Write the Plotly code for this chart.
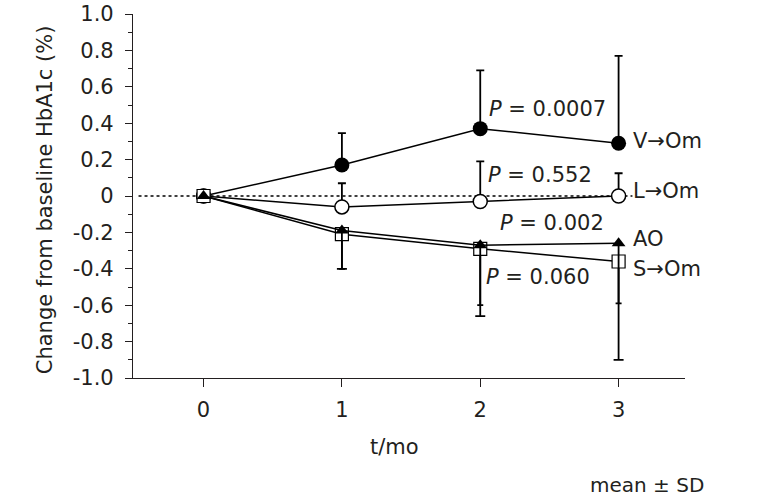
import plotly.graph_objects as go

months = [0, 1, 2, 3]

v_om = [0, 0.17, 0.37, 0.29]
v_om_sd = [0, 0.175, 0.32, 0.48]

l_om = [0, -0.06, -0.03, 0.0]
l_om_sd = [0, 0.13, 0.22, 0.125]

ao = [0, -0.19, -0.27, -0.26]
ao_sd = [0, 0.21, 0.33, 0.33]

s_om = [0, -0.21, -0.29, -0.36]
s_om_sd = [0, 0.19, 0.37, 0.54]

ytick_vals = [1.0, 0.8, 0.6, 0.4, 0.2, 0, -0.2, -0.4, -0.6, -0.8, -1.0]
ytick_text = ["1.0", "0.8", "0.6", "0.4", "0.2", "0", "-0.2", "-0.4", "-0.6", "-0.8", "-1.0"]

p_labels = ["<i>P</i> = 0.0007", "<i>P</i> = 0.552", "<i>P</i> = 0.002", "<i>P</i> = 0.060"]
p_pos = [(2.05, 0.48), (2.04, 0.115), (2.13, -0.15), (2.03, -0.445)]

series_labels = ["V→Om", "L→Om", "AO", "S→Om"]
series_label_y = [0.30, 0.03, -0.235, -0.40]

FONT = "DejaVu Sans"
TXT = "#231f20"
fig = go.Figure()


def up_err(sd, w):
    return dict(type="data", symmetric=False, array=sd, arrayminus=[0] * len(sd),
                color="black", thickness=1.8, width=w)


def down_err(sd, w):
    return dict(type="data", symmetric=False, array=[0] * len(sd), arrayminus=sd,
                color="black", thickness=1.8, width=w)


# zero reference line (dotted)
fig.add_shape(type="line", x0=-0.47, x1=3.1, y0=0, y1=0, xref="x", yref="y",
              line=dict(color="black", width=1.5, dash="dot"), layer="below")

# circles first so the square + triangle sit on top at month 0
fig.add_trace(go.Scatter(x=months, y=v_om, mode="lines+markers", name="V→Om",
                         line=dict(color="black", width=1.5),
                         marker=dict(symbol="circle", size=15, color="black"),
                         error_y=up_err(v_om_sd, 4)))
fig.add_trace(go.Scatter(x=months, y=l_om, mode="lines+markers", name="L→Om",
                         line=dict(color="black", width=1.5),
                         marker=dict(symbol="circle", size=14, color="white",
                                     line=dict(color="black", width=1.5)),
                         error_y=up_err(l_om_sd, 4)))
fig.add_trace(go.Scatter(x=months, y=s_om, mode="lines+markers", name="S→Om",
                         line=dict(color="black", width=1.5),
                         marker=dict(symbol="square", size=13, color="white",
                                     line=dict(color="black", width=1.2)),
                         error_y=down_err(s_om_sd, 5)))
fig.add_trace(go.Scatter(x=months, y=ao, mode="lines+markers", name="AO",
                         line=dict(color="black", width=1.5),
                         marker=dict(symbol="triangle-up", size=12, color="black"),
                         error_y=down_err(ao_sd, 3)))

for txt, (px, py) in zip(p_labels, p_pos):
    fig.add_annotation(x=px, y=py, text=txt, showarrow=False, xanchor="left",
                       yanchor="middle", font=dict(size=21, color=TXT, family=FONT))

for txt, ly in zip(series_labels, series_label_y):
    fig.add_annotation(x=3, y=ly, text=txt, showarrow=False, xanchor="left", xshift=12,
                       yanchor="middle", font=dict(size=21, color=TXT, family=FONT))

# axis titles and footnote
fig.add_annotation(x=-0.159, y=0.489, xref="paper", yref="paper",
                   text="Change from baseline HbA1c (%)", textangle=-90, showarrow=False,
                   xanchor="center", yanchor="middle",
                   font=dict(size=21, color=TXT, family=FONT))
fig.add_annotation(x=0.473, y=-0.19, xref="paper", yref="paper", text="t/mo",
                   showarrow=False, xanchor="center", yanchor="middle",
                   font=dict(size=21, color=TXT, family=FONT))
fig.add_annotation(x=0.931, y=-0.294, xref="paper", yref="paper", text="mean ± SD",
                   showarrow=False, xanchor="center", yanchor="middle",
                   font=dict(size=20, color=TXT, family=FONT))

fig.update_xaxes(range=[-0.51, 3.48], tickvals=months, ticktext=[str(m) for m in months],
                 showline=True, linecolor=TXT, linewidth=1.2, ticks="outside",
                 ticklen=8, tickcolor=TXT, showgrid=False, zeroline=False,
                 automargin=False, ticklabelstandoff=5,
                 tickfont=dict(size=21, color=TXT, family=FONT))
fig.update_yaxes(range=[-1.0, 1.0], tickvals=ytick_vals, ticktext=ytick_text,
                 showline=True, linecolor=TXT, linewidth=1.2, ticks="outside",
                 ticklen=7, tickcolor=TXT, showgrid=False, zeroline=False,
                 automargin=False, ticklabelstandoff=7,
                 minor=dict(dtick=0.1, ticks="outside", ticklen=4, tickcolor=TXT),
                 tickfont=dict(size=21, color=TXT, family=FONT))

fig.update_layout(width=774, height=497, plot_bgcolor="white", paper_bgcolor="white",
                  showlegend=False, margin=dict(l=133, r=89, t=14, b=119))

# drop the browser's default 8px body margin so the figure fills the window
fig.write_html("out.html", config={"displayModeBar": False},
               post_script="document.body.style.margin='0';")
